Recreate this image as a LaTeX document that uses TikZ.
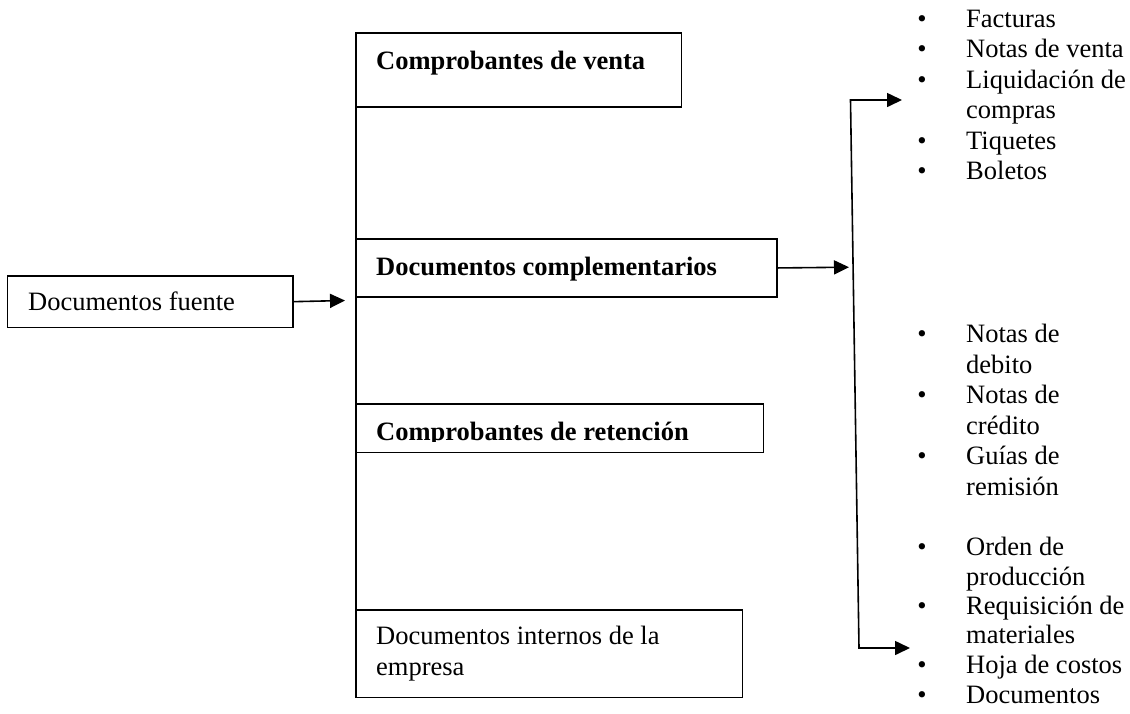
\documentclass[tikz,border=0pt]{standalone}
\usepackage{fontspec}
\setmainfont{Liberation Serif}
\usetikzlibrary{arrows.meta}
\begin{document}
\begin{tikzpicture}[x=1pt,y=-1pt,
  every node/.style={font=\fontsize{26.5}{30.5}\selectfont, inner sep=0pt},
  boxnode/.style={draw, line width=1.6pt, anchor=north west, minimum width=#1},
  txt/.style={anchor=base west},
  btxt/.style={anchor=base west, font=\fontsize{26.5}{30.5}\selectfont\bfseries},
  bul/.style={anchor=base},
  conn/.style={line width=1.6pt},
  arr/.style={line width=1.6pt, -{Triangle[length=15pt,width=14pt]}},
  darr/.style={line width=1.6pt, {Triangle[length=15pt,width=14pt]}-{Triangle[length=15pt,width=14pt]}}
]
\useasboundingbox (0,0) rectangle (1130,713);

% boxes
\node[boxnode=285.6, minimum height=51.7] (b0) at (6.7,275) {};
\node[boxnode=325, minimum height=73.7] (b1) at (355.7,32.3) {};
\node[boxnode=420.3, minimum height=57.7] (b2) at (355.7,238.3) {};
\node[boxnode=407, minimum height=48.4] (b3) at (355.7,403.3) {};
\node[boxnode=386, minimum height=87.4] (b4) at (355.7,609.3) {};

% box texts
\node[txt] (t0) at (28,310) {Documentos fuente};
\node[btxt] (t1) at (376,69.5) {Comprobantes de venta};
\node[btxt] (t2) at (376,275) {Documentos complementarios};
\begin{scope}
  \clip (355.7,403.3) rectangle (762.7,441.5);
  \node[btxt] (t3) at (376,440) {Comprobantes de retención};
\end{scope}
\node[txt] (t4a) at (376,644) {Documentos internos de la};
\node[txt] (t4b) at (376,675) {empresa};

% connectors
\coordinate (j0) at (345,300.5);
\draw[arr] (b0.east) -- (j0);
\draw[conn] (b1.north west) -- (b4.south west);
\coordinate (j1) at (849,267.2);
\draw[arr] (b2.east) -- (j1);
\coordinate (c1) at (850.5,100);
\coordinate (c2) at (859,648);
\coordinate (e1) at (902,100);
\coordinate (e2) at (910,648);
\draw[darr, line join=miter] (e1) -- (c1) -- (c2) -- (e2);

% list 1
\node[bul] (p1) at (922,27) {•};
\node[txt] (l1) at (966,27) {Facturas};
\node[bul] (p2) at (922,57.5) {•};
\node[txt] (l2) at (966,57.5) {Notas de venta};
\node[bul] (p3) at (922,88) {•};
\node[txt] (l3) at (966,88) {Liquidación de};
\node[txt] (l4) at (966,118.5) {compras};
\node[bul] (p5) at (922,149) {•};
\node[txt] (l5) at (966,149) {Tiquetes};
\node[bul] (p6) at (922,179.5) {•};
\node[txt] (l6) at (966,179.5) {Boletos};

% list 2
\node[bul] (q1) at (922,342.5) {•};
\node[txt] (m1) at (966,342.5) {Notas de};
\node[txt] (m2) at (966,373) {debito};
\node[bul] (q3) at (922,403.5) {•};
\node[txt] (m3) at (966,403.5) {Notas de};
\node[txt] (m4) at (966,434) {crédito};
\node[bul] (q5) at (922,464.5) {•};
\node[txt] (m5) at (966,464.5) {Guías de};
\node[txt] (m6) at (966,495) {remisión};

% list 3
\node[bul] (r1) at (922,555) {•};
\node[txt] (n1) at (966,555) {Orden de};
\node[txt] (n2) at (966,585) {producción};
\node[bul] (r3) at (922,614) {•};
\node[txt] (n3) at (966,614) {Requisición de};
\node[txt] (n4) at (966,643.5) {materiales};
\node[bul] (r5) at (922,673) {•};
\node[txt] (n5) at (966,673) {Hoja de costos};
\node[bul] (r6) at (922,703) {•};
\node[txt] (n6) at (966,703) {Documentos};
\end{tikzpicture}
\end{document}
